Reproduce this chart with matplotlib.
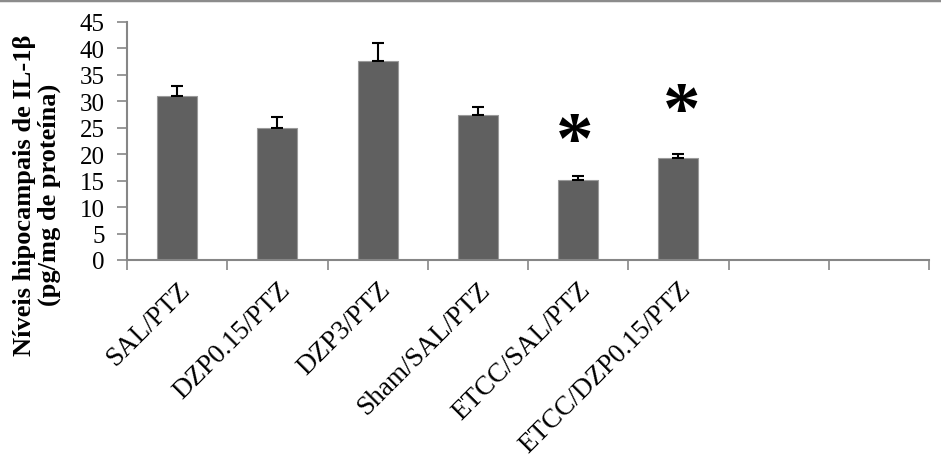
import numpy as np
import matplotlib
matplotlib.use("Agg")
import matplotlib.pyplot as plt
from matplotlib.lines import Line2D

plt.rcParams.update({
    "font.family": "Liberation Serif",
    "font.size": 18,
})

# Datos
categorias = ["SAL/PTZ", "DZP0.15/PTZ", "DZP3/PTZ", "Sham/SAL/PTZ",
              "ETCC/SAL/PTZ", "ETCC/DZP0.15/PTZ", "", ""]
valores = [31.0, 24.9, 37.5, 27.4, 15.2, 19.2]
errores = [1.8, 2.1, 3.5, 1.4, 0.6, 0.8]
# posición (x, y) de los asteriscos de significancia
asteriscos = [(3.97, 21.9), (5.03, 27.5)]

gris_eje = "#868686"

fig = plt.figure(figsize=(9.41, 4.56), dpi=100)
ax = fig.add_axes([127 / 941, 1 - 261 / 456, (929 - 127) / 941, (261 - 22.7) / 456])

x = np.arange(len(valores))
ax.bar(x, valores, width=0.4, color="#606060", edgecolor="#9a9a9a", linewidth=0.8,
       yerr=[np.zeros(len(errores)), errores], capsize=4,
       error_kw=dict(ecolor="black", elinewidth=1.5, capthick=1.5), zorder=2)

for xa, ya in asteriscos:
    ax.text(xa, ya, "*", ha="center", va="center", fontsize=54, fontweight="bold")

ax.set_xlim(-0.5, len(categorias) - 0.5)
ax.set_ylim(0, 45)
ax.set_yticks(np.arange(0, 46, 5))
ax.set_xticks(np.arange(-0.5, len(categorias), 1))
ax.set_xticklabels([])
ax.set_xticks(np.arange(len(categorias)), minor=True)
ax.set_xticklabels(categorias, minor=True, rotation=45, ha="right",
                   rotation_mode="anchor", fontsize=19.5)
ax.tick_params(axis="x", which="minor", length=0, pad=12)
ax.tick_params(axis="x", which="major", length=7, width=1.2, color=gris_eje, direction="out")
ax.tick_params(axis="y", length=7, width=1.2, color=gris_eje, direction="out", pad=9)

for lado in ["top", "right"]:
    ax.spines[lado].set_visible(False)
for lado in ["left", "bottom"]:
    ax.spines[lado].set_color(gris_eje)
    ax.spines[lado].set_linewidth(1.5)

fig.text(37 / 941, 1 - 195 / 456, "Níveis hipocampais de IL-1β\n(pg/mg de proteína)",
         rotation=90, ha="center", va="center", fontsize=19, fontweight="bold",
         linespacing=1.05)

# borde superior
fig.add_artist(Line2D([0, 1], [0.997, 0.997], color="#8c8c8c", linewidth=2.5,
                      transform=fig.transFigure))

fig.savefig("out.png", dpi=100)
